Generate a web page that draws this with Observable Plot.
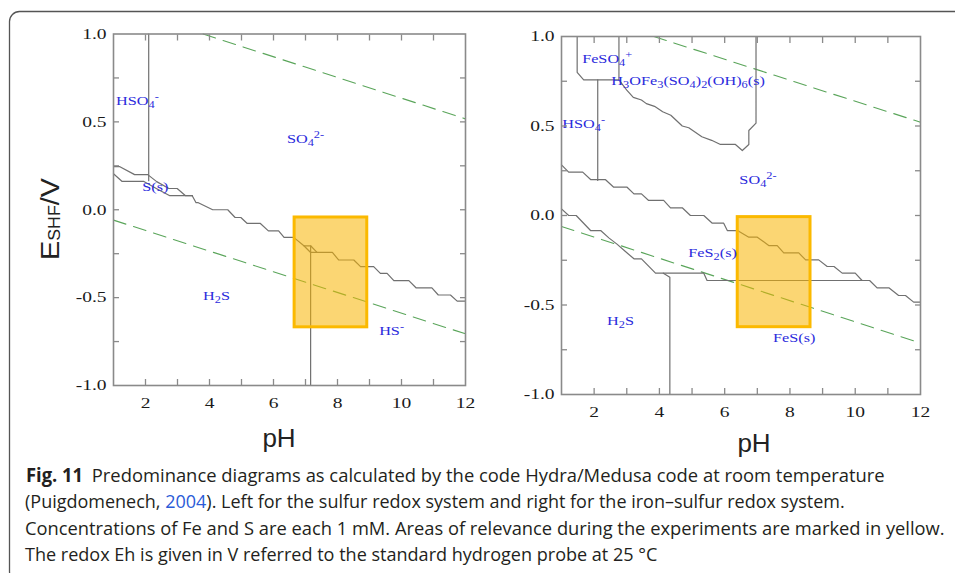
<!DOCTYPE html>
<html>
<head>
<meta charset="utf-8">
<script src="https://cdn.jsdelivr.net/npm/d3@7"></script>
<script src="https://cdn.jsdelivr.net/npm/@observablehq/plot@0.6"></script>
<style>
  html, body { margin: 0; padding: 0; background: #fff; }
  body { width: 955px; height: 573px; position: relative; overflow: hidden; }
  #p1 { position: absolute; left: 0; top: 0; width: 480px; }
  #p2 { position: absolute; left: 480px; top: 0; width: 475px; }
  #overlay { position: absolute; left: 0; top: 0; pointer-events: none; }
  svg { overflow: visible; }
</style>
</head>
<body>
<div id="p1"></div>
<div id="p2"></div>
<svg id="overlay" width="955" height="573" xmlns="http://www.w3.org/2000/svg">
  <rect x="9.5" y="11.5" width="1000" height="570" rx="10" ry="10" fill="none" stroke="#555" stroke-width="1.3"></rect>
  <text transform="translate(59,219) rotate(-90)" text-anchor="middle" font-family="Liberation Sans, Arial, sans-serif" font-size="26" fill="#222" textLength="82" lengthAdjust="spacingAndGlyphs">E<tspan font-size="16" dy="1">SHF</tspan><tspan dy="-1">/V</tspan></text>
  <text x="279" y="446.6" text-anchor="middle" font-family="Liberation Sans, Arial, sans-serif" font-size="26" fill="#222">pH</text>
  <text x="754" y="452" text-anchor="middle" font-family="Liberation Sans, Arial, sans-serif" font-size="26" fill="#222">pH</text>
  <g id="caption" font-family="Open Sans, Noto Sans, sans-serif" font-size="19" fill="#231f20"></g>
</svg>
<script>
// ---------- tick values ----------
const xTicks = [2, 3, 4, 5, 6, 7, 8, 9, 10, 11];
const xTickLabels = [2, 4, 6, 8, 10, 12];
const yTicks = [-0.75, -0.5, -0.25, 0, 0.25, 0.5, 0.75];
const yTickLabels = [-1, -0.5, 0, 0.5, 1];

// ---------- left panel: sulfur system (pH, E/V) ----------
const leftHSO4Boundary = [[2.1, 1.0], [2.1, 0.165]];
const leftSUpper = [[1, 0.245], [1.2, 0.245], [1.66, 0.2], [2.07, 0.2], [2.35, 0.16], [2.73, 0.121], [2.99, 0.121], [3.25, 0.08], [3.46, 0.08]];
const leftSLower = [[1, 0.205], [1.27, 0.161], [1.95, 0.161], [2.35, 0.12], [2.76, 0.08], [3.46, 0.08]];
const leftMain = [[3.46, 0.08], [3.58, 0.04], [3.65, 0.04], [4.1, 0.0], [4.57, 0.0], [4.8, -0.044], [4.98, -0.044], [5.18, -0.078], [5.59, -0.078], [5.84, -0.12], [6.16, -0.12], [6.33, -0.157], [6.63, -0.157], [6.95, -0.205], [7.16, -0.205], [7.36, -0.243], [7.84, -0.243], [8.04, -0.286], [8.51, -0.286], [8.72, -0.324], [9.13, -0.324], [9.34, -0.362], [9.55, -0.362], [9.76, -0.403], [10.23, -0.403], [10.46, -0.445], [10.95, -0.445], [11.15, -0.485], [11.53, -0.485], [11.74, -0.52], [12, -0.52]];
const leftH2SExt = [[6.95, -0.205], [7.16, -0.243], [7.36, -0.243]];
const leftHSBoundary = [[7.16, -0.205], [7.16, -1.0]];
const leftO2Line = [[3.8, 1.0], [12, 0.517]];
const leftH2Line = [[1, -0.059], [12, -0.706]];
const leftBox = [{x1: 6.66, x2: 8.93, y1: -0.669, y2: -0.044}];
const leftLabels = [
  {ph: 1.75, e: 0.62, label: "HSO_{4}^{-}"},
  {ph: 7.0, e: 0.40, label: "SO_{4}^{2-}"},
  {ph: 2.31, e: 0.13, label: "S(s)"},
  {ph: 4.22, e: -0.49, label: "H_{2}S"},
  {ph: 9.69, e: -0.69, label: "HS^{-}"}
];

// ---------- right panel: iron-sulfur system ----------
const rightFeSO4 = [[1.48, 1.0], [1.48, 0.80], [1.68, 0.758], [2.76, 0.758]];
const rightFeSO4Right = [[2.76, 1.0], [2.76, 0.758]];
const rightJarosite = [[2.76, 0.758], [3.0, 0.70], [3.2, 0.66], [3.45, 0.645], [3.6, 0.625], [3.85, 0.61], [4.1, 0.58], [4.35, 0.56], [4.7, 0.50], [4.9, 0.49], [5.3, 0.44], [5.6, 0.42], [5.87, 0.397], [6.33, 0.397], [6.54, 0.363], [6.74, 0.397], [6.74, 0.475], [6.96, 0.516], [6.96, 1.0]];
const rightHSO4Boundary = [[2.11, 0.758], [2.11, 0.196]];
const rightUpper = [[1, 0.283], [1.22, 0.242], [1.65, 0.242], [1.9, 0.2], [2.35, 0.2], [2.6, 0.158], [3.01, 0.158], [3.22, 0.121], [3.45, 0.121], [3.67, 0.084], [4.13, 0.084], [4.34, 0.043], [4.7, 0.043], [4.95, 0.0], [5.36, 0.0], [5.62, -0.043], [5.97, -0.043], [6.08, -0.084], [6.39, -0.084], [6.74, -0.121], [7.0, -0.121], [7.35, -0.168], [7.61, -0.168], [7.81, -0.209], [8.27, -0.209], [8.48, -0.248], [8.88, -0.248], [9.14, -0.285], [9.35, -0.285], [9.6, -0.322], [10.0, -0.322], [10.21, -0.363], [10.44, -0.363], [10.67, -0.404], [11.03, -0.404], [11.33, -0.447], [11.54, -0.447], [11.79, -0.484], [12, -0.484]];
const rightLower = [[1, 0.037], [1.22, 0.0], [1.45, 0.0], [1.89, -0.084], [2.2, -0.084], [2.45, -0.125], [2.7, -0.16], [2.95, -0.2], [3.22, -0.242], [3.45, -0.242], [3.88, -0.322], [5.36, -0.322], [5.46, -0.363], [10.21, -0.363]];
const rightFeSBoundary = [[4.12, -0.322], [4.32, -0.345], [4.32, -1.0]];
const rightO2Line = [[3.83, 1.0], [12, 0.521]];
const rightH2Line = [[1, -0.061], [12, -0.713]];
const rightBox = [{x1: 6.40, x2: 8.63, y1: -0.624, y2: -0.009}];
const rightLabels = [
  {ph: 2.40, e: 0.875, label: "FeSO_{4}^{+}"},
  {ph: 4.88, e: 0.75, label: "H_{3}OFe_{3}(SO_{4})_{2}(OH)_{6}(s)"},
  {ph: 1.68, e: 0.512, label: "HSO_{4}^{-}"},
  {ph: 7.02, e: 0.196, label: "SO_{4}^{2-}"},
  {ph: 5.63, e: -0.21, label: "FeS_{2}(s)"},
  {ph: 2.81, e: -0.587, label: "H_{2}S"},
  {ph: 8.13, e: -0.683, label: "FeS(s)"}
];

// ---------- caption ----------
const captionLines = [
  {x: 26, y: 481.7, width: 859, parts: [["Fig. 11", "bold"], ["Predominance diagrams as calculated by the code Hydra/Medusa code at room temperature", "gap"]]},
  {x: 25, y: 508.2, width: 820, parts: [["(Puigdomenech, ", ""], ["2004", "link"], ["). Left for the sulfur redox system and right for the iron–sulfur redox system.", ""]]},
  {x: 25, y: 534.7, width: 920, parts: [["Concentrations of Fe and S are each 1 mM. Areas of relevance during the experiments are marked in yellow.", ""]]},
  {x: 25, y: 561.2, width: 633, parts: [["The redox Eh is given in V referred to the standard hydrogen probe at 25 °C", ""]]}
];

// ---------- helpers ----------
const toRows = (lines) => lines.flatMap((pts, id) => pts.map(([ph, e]) => ({id, ph, e})));

function axes() {
  const tc = "#8a8a8a";
  return [
    Plot.axisX(xTicks, {anchor: "bottom", tickSize: -6, stroke: tc, strokeWidth: 1.3, tickFormat: () => "", label: null}),
    Plot.axisX(xTicks, {anchor: "top", tickSize: -6, stroke: tc, strokeWidth: 1.3, tickFormat: () => "", label: null}),
    Plot.axisY(yTicks, {anchor: "left", tickSize: -6, stroke: tc, strokeWidth: 1.3, tickFormat: () => "", label: null}),
    Plot.axisY(yTicks, {anchor: "right", tickSize: -6, stroke: tc, strokeWidth: 1.3, tickFormat: () => "", label: null}),
    Plot.axisX(xTickLabels, {anchor: "bottom", tickSize: 0, tickPadding: 12, tickFormat: (d) => String(d), label: null, fill: "#1a1a1a"}),
    Plot.axisY(yTickLabels, {anchor: "left", tickSize: 0, tickPadding: 7, tickFormat: (d) => d.toFixed(1), label: null, fill: "#1a1a1a"})
  ];
}

function panel({width, height, margins, boundaries, dashed, box, labels}) {
  return Plot.plot({
    width, height,
    marginLeft: margins[0], marginRight: margins[1], marginTop: margins[2], marginBottom: margins[3],
    x: {domain: [1, 12]},
    y: {domain: [-1, 1]},
    style: {fontFamily: "Liberation Serif, 'Times New Roman', serif", fontSize: "15px", background: "transparent", color: "#1a1a1a"},
    marks: [
      Plot.line(toRows(dashed), {x: "ph", y: "e", z: "id", stroke: "#5aa55a", strokeWidth: 1.1, strokeDasharray: "13,8"}),
      Plot.line(toRows(boundaries), {x: "ph", y: "e", z: "id", stroke: "#707070", strokeWidth: 1.2}),
      Plot.rect(box, {x1: "x1", x2: "x2", y1: "y1", y2: "y2", fill: "#f7b500", fillOpacity: 0.55, stroke: "#fbb900", strokeWidth: 3}),
      Plot.text(labels, {x: "ph", y: "e", text: "label", fill: "#2b2bdc", fontSize: 12.5}),
      Plot.frame({stroke: "#8a8a8a", strokeWidth: 1.6}),
      ...axes()
    ]
  });
}

const NS = "http://www.w3.org/2000/svg";
const speciesNames = new Set([...leftLabels, ...rightLabels].map((d) => d.label));
function richify(el) {
  const s = el.textContent;
  el.textContent = "";
  const re = /([_^])\{([^}]*)\}/g;
  let last = 0, m, shift = 0;
  const add = (txt, kind) => {
    const t = document.createElementNS(NS, "tspan");
    t.textContent = txt;
    const target = kind === "_" ? 3 : kind === "^" ? -5 : 0;
    if (target - shift !== 0) t.setAttribute("dy", target - shift);
    shift = target;
    if (kind) t.setAttribute("font-size", "9.5");
    el.appendChild(t);
  };
  while ((m = re.exec(s))) {
    if (m.index > last) add(s.slice(last, m.index), "");
    add(m[2], m[1]);
    last = re.lastIndex;
  }
  if (last < s.length) add(s.slice(last), "");
}
function stretch(t, sx) {
  const tr = t.getAttribute("transform") || "";
  const xa = t.getAttribute("x");
  let extra = "";
  if (xa && /^-?[\d.]+$/.test(xa) && +xa !== 0) { extra = ` translate(${+xa},0)`; t.removeAttribute("x"); }
  t.setAttribute("transform", `${tr}${extra} scale(${sx},1)`.trim());
}

const left = panel({
  width: 480, height: 400, margins: [113, 15, 33.5, 15],
  boundaries: [leftHSO4Boundary, leftSUpper, leftSLower, leftMain, leftH2SExt, leftHSBoundary],
  dashed: [leftO2Line, leftH2Line], box: leftBox, labels: leftLabels
});
const right = panel({
  width: 475, height: 410, margins: [81, 35, 36, 16],
  boundaries: [rightFeSO4, rightFeSO4Right, rightJarosite, rightHSO4Boundary, rightUpper, rightLower, rightFeSBoundary],
  dashed: [rightO2Line, rightH2Line], box: rightBox, labels: rightLabels
});
document.getElementById("p1").appendChild(left);
document.getElementById("p2").appendChild(right);

for (const svg of [left, right]) {
  svg.querySelectorAll("text").forEach((t) => {
    if (speciesNames.has(t.textContent)) {
      richify(t);
      stretch(t, 1.3);
    } else {
      stretch(t, 1.3);
    }
  });
}

// caption: each line squeezed horizontally to the reference width
const cap = document.getElementById("caption");
for (const line of captionLines) {
  const t = document.createElementNS(NS, "text");
  for (const [txt, kind] of line.parts) {
    const s = document.createElementNS(NS, "tspan");
    s.textContent = txt;
    if (kind === "bold") s.setAttribute("font-weight", "bold");
    if (kind === "link") s.setAttribute("fill", "#2a5bd7");
    if (kind === "gap") s.setAttribute("dx", "9");
    t.appendChild(s);
  }
  cap.appendChild(t);
  const natural = t.getComputedTextLength() + (line.parts.some((p) => p[1] === "gap") ? 9 : 0);
  t.setAttribute("transform", `translate(${line.x},${line.y}) scale(${line.width / natural},1)`);
}
</script>
</body>
</html>
